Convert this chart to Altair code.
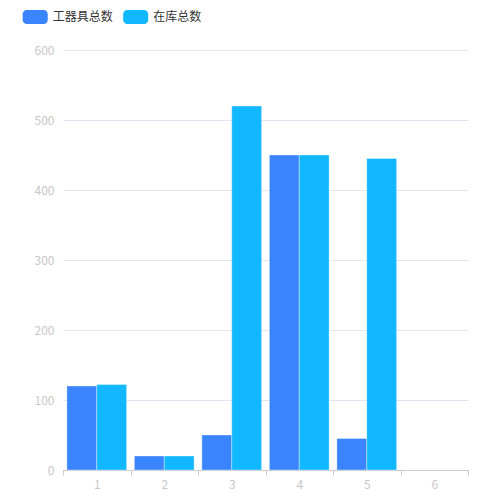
import altair as alt
import pandas as pd

categories = ["1", "2", "3", "4", "5", "6"]
series_names = ["工器具总数", "在库总数"]
tools_total = [120, 20, 50, 450, 45, None]
stock_total = [122, 20, 520, 450, 445, None]
colors = ["#3a84ff", "#12b8ff"]
y_ticks = [0, 100, 200, 300, 400, 500, 600]

rows = []
for c, a, b in zip(categories, tools_total, stock_total):
    if a is not None:
        rows.append({"cat": c, "series": series_names[0], "value": a})
    if b is not None:
        rows.append({"cat": c, "series": series_names[1], "value": b})
df = pd.DataFrame(rows)

FONT = "Noto Sans CJK SC"
# rounded rectangle 25x14 drawn with a symbol of nominal size 14
rounded = ("M-1.21,-1 L1.21,-1 A0.58,0.58 0 0 1 1.79,-0.42 L1.79,0.42 "
           "A0.58,0.58 0 0 1 1.21,1 L-1.21,1 A0.58,0.58 0 0 1 -1.79,0.42 "
           "L-1.79,-0.42 A0.58,0.58 0 0 1 -1.21,-1 Z")

chart = alt.Chart(df).mark_bar(
    stroke="white", strokeOpacity=0.35, strokeWidth=1
).encode(
    x=alt.X("cat:N", scale=alt.Scale(domain=categories, paddingInner=0, paddingOuter=0),
            axis=alt.Axis(title=None, labelAngle=0, tickBand="extent", tickSize=5,
                          tickColor="#cccccc", domainColor="#cccccc", labelColor="#c8c8c8",
                          labelFontSize=12, labelFont=FONT, labelPadding=4, grid=False)),
    xOffset=alt.XOffset("series:N", scale=alt.Scale(domain=series_names, paddingInner=0, paddingOuter=0.13),
                        sort=series_names),
    y=alt.Y("value:Q", scale=alt.Scale(domain=[0, 600]),
            axis=alt.Axis(title=None, values=y_ticks, domain=False, ticks=False,
                          gridColor="#e0e6f1", labelColor="#c8c8c8", labelFontSize=12,
                          labelFont=FONT, labelPadding=9)),
    color=alt.Color("series:N", scale=alt.Scale(domain=series_names, range=colors),
                    legend=alt.Legend(title=None, orient="none", direction="horizontal",
                                      legendX=-34.8, legendY=-40, symbolType=rounded,
                                      symbolSize=196, symbolStrokeWidth=0, symbolOpacity=1,
                                      labelFontSize=12, labelFont=FONT, labelColor="#333333",
                                      labelOffset=10.5, columnPadding=9.5, padding=0)),
).properties(
    width=405, height=420,
    autosize=alt.AutoSizeParams(type="none"),
    padding={"left": 55, "top": 42, "right": 20, "bottom": 30},
).configure_view(stroke=None)

chart.save("out.html", embed_options={"renderer": "svg", "actions": False})
